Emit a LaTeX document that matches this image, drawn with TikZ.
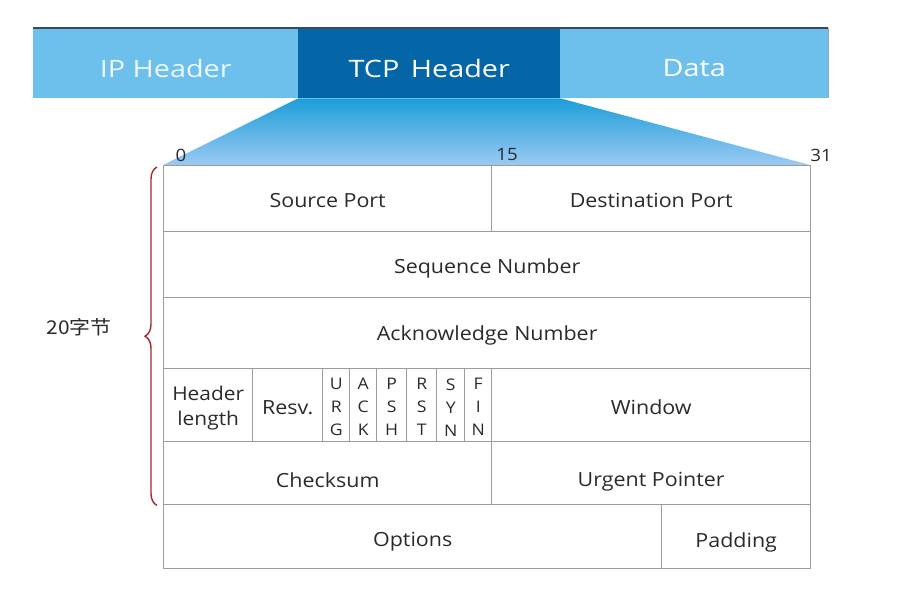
\documentclass[tikz,border=0pt]{standalone}
\usepackage{fontspec}
\setmainfont{Open Sans}
\newfontfamily\widefont[FakeStretch=1.1]{Open Sans}
\newfontfamily\barfont[FakeStretch=1.2]{Open Sans}
\newfontfamily\cjk[FakeStretch=1.1]{Noto Sans CJK SC}
\usetikzlibrary{decorations.pathreplacing}
\definecolor{lightbar}{HTML}{6DBFEC}
\definecolor{darkbar}{HTML}{0466A6}
\definecolor{barline}{HTML}{3A4A58}
\definecolor{gradtop}{HTML}{1C9ED8}
\definecolor{gradbot}{HTML}{9ACAF4}
\definecolor{gridline}{HTML}{9C9C9C}
\definecolor{bracered}{HTML}{A02A30}
\definecolor{txt}{HTML}{2A2A2A}
\tikzset{
  barbox/.style={draw=none, minimum height=70pt, inner sep=0pt},
  bartext/.style={inner sep=0pt, font=\barfont\fontsize{24}{26}\selectfont},
  cellbox/.style={draw=gridline, line width=1.4pt, inner sep=0pt},
  celltext/.style={inner sep=0pt, text=txt, font=\widefont\fontsize{19.5}{21}\selectfont},
  flagtext/.style={celltext, font=\widefont\fontsize{16}{23}\selectfont, align=center},
  numlabel/.style={text=txt, font=\widefont\fontsize{17}{18}\selectfont, inner sep=0pt}
}
\begin{document}
\begin{tikzpicture}[x=1pt,y=-1pt]
\useasboundingbox (0,0) rectangle (907,592);
% top bar
\node[barbox, fill=lightbar, minimum width=265pt, anchor=north west] (ip) at (33,28) {};
\node[barbox, fill=darkbar, minimum width=262pt, anchor=north west] (tcp) at (298,28) {};
\node[barbox, fill=lightbar, minimum width=268pt, anchor=north west] (data) at (560,28) {};
\node[bartext, text=white!88!lightbar] (ipt) at ([yshift=-5pt]ip.center) {IP Header};
\node[bartext, text=white] (tcpt) at ([yshift=-5pt]tcp.center) {TCP\, Header};
\node[bartext, text=white] (datat) at ([yshift=-5pt]data.center) {Data};
\draw[barline, line width=2pt] (ip.north west) -- (data.north east);
\draw[gridline!60!lightbar, line width=1pt] (data.north east) -- (data.south east);
% trapezoid
\shade[top color=gradtop, bottom color=gradbot] (tcp.south west) -- (tcp.south east) -- (810,165) -- (163,165) -- cycle;
% table cells
\node[cellbox, minimum width=328pt, minimum height=66pt, anchor=north west] (sp) at (163,165) {};
\node[cellbox, minimum width=319pt, minimum height=66pt, anchor=north west] (dp) at (491,165) {};
\node[cellbox, minimum width=647pt, minimum height=66pt, anchor=north west] (seq) at (163,231) {};
\node[cellbox, minimum width=647pt, minimum height=71pt, anchor=north west] (ack) at (163,297) {};
\node[cellbox, minimum width=89pt, minimum height=73pt, anchor=north west] (hl) at (163,368) {};
\node[cellbox, minimum width=70pt, minimum height=73pt, anchor=north west] (resv) at (252,368) {};
\node[cellbox, minimum width=27pt, minimum height=73pt, anchor=north west] (urg) at (322,368) {};
\node[cellbox, minimum width=27pt, minimum height=73pt, anchor=north west] (ackf) at (349,368) {};
\node[cellbox, minimum width=30pt, minimum height=73pt, anchor=north west] (psh) at (376,368) {};
\node[cellbox, minimum width=30pt, minimum height=73pt, anchor=north west] (rst) at (406,368) {};
\node[cellbox, minimum width=28pt, minimum height=73pt, anchor=north west] (syn) at (436,368) {};
\node[cellbox, minimum width=27pt, minimum height=73pt, anchor=north west] (fin) at (464,368) {};
\node[cellbox, minimum width=319pt, minimum height=73pt, anchor=north west] (win) at (491,368) {};
\node[cellbox, minimum width=328pt, minimum height=63pt, anchor=north west] (cs) at (163,441) {};
\node[cellbox, minimum width=319pt, minimum height=63pt, anchor=north west] (up) at (491,441) {};
\node[cellbox, minimum width=498pt, minimum height=64pt, anchor=north west] (opt) at (163,504) {};
\node[cellbox, minimum width=149pt, minimum height=64pt, anchor=north west] (pad) at (661,504) {};
% cell texts
\node[celltext] (spt) at ([yshift=-2pt]sp.center) {Source Port};
\node[celltext] (dpt) at ([yshift=-2pt]dp.center) {Destination Port};
\node[celltext] (seqt) at ([yshift=-4pt]seq.center) {Sequence Number};
\node[celltext] (ackt) at ([yshift=-2pt]ack.center) {Acknowledge Number};
\node[celltext, align=center, font=\widefont\fontsize{19}{25}\selectfont] (hlt) at ([yshift=-3pt]hl.center) {Header\\length};
\node[celltext] (resvt) at ([yshift=-2pt]resv.center) {Resv.};
\node[flagtext] (urgt) at ([yshift=-2pt]urg.center) {U\\R\\G};
\node[flagtext] (ackft) at ([yshift=-2pt]ackf.center) {A\\C\\K};
\node[flagtext] (psht) at ([yshift=-2pt]psh.center) {P\\S\\H};
\node[flagtext] (rstt) at ([yshift=-2pt]rst.center) {R\\S\\T};
\node[flagtext] (synt) at ([yshift=-2pt]syn.center) {S\\Y\\N};
\node[flagtext] (fint) at ([yshift=-2pt]fin.center) {F\\I\\N};
\node[celltext] (wint) at ([yshift=-2pt]win.center) {Window};
\node[celltext] (cst) at ([yshift=-7pt]cs.center) {Checksum};
\node[celltext] (upt) at ([yshift=-8pt]up.center) {Urgent Pointer};
\node[celltext] (optt) at ([yshift=-5pt]opt.center) {Options};
\node[celltext] (padt) at ([yshift=-6pt]pad.center) {Padding};
% bit labels
\node[numlabel] (b0) at (181,155) {0};
\node[numlabel] (b15) at (507,155) {15};
\node[numlabel] (b31) at (821,155) {31};
% brace
\draw[bracered, line width=1.4pt, decorate, decoration={brace, amplitude=12pt, mirror}] (sp.north west) ++(-6,2) -- ([xshift=-6pt]cs.south west);
\node[text=txt, font=\cjk\fontsize{19}{21}\selectfont, inner sep=0pt] (bytes) at (79,327) {20字节};
\end{tikzpicture}
\end{document}
